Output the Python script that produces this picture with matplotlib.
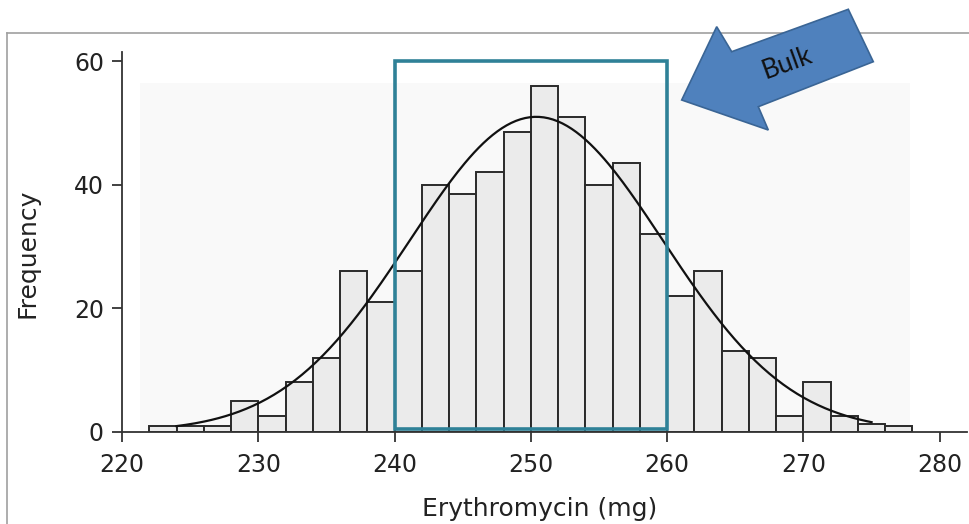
import numpy as np
import matplotlib
matplotlib.use("Agg")
import matplotlib.pyplot as plt
from matplotlib.patches import Polygon, Rectangle
from matplotlib.lines import Line2D

# histogram bins (left edges, width 2 mg) and counts
bin_left = [222, 224, 226, 228, 230, 232, 234, 236, 238, 240, 242, 244, 246, 248,
            250, 252, 254, 256, 258, 260, 262, 264, 266, 268, 270, 272, 274, 276]
counts = [1, 1, 1, 5, 2.5, 8, 12, 26, 21, 26, 40, 38.5, 42, 48.5,
          56, 51, 40, 43.5, 32, 22, 26, 13, 12, 2.5, 8, 2.5, 1.3, 1]
bin_width = 2

# fitted normal curve
fit_mean = 250.4
fit_sd = 9.3
fit_peak = 51
fit_range = (224, 275)

# "bulk" window
bulk_lo, bulk_hi = 240, 260
bulk_top = 60

xticks = [220, 230, 240, 250, 260, 270, 280]
yticks = [0, 20, 40, 60]

W, H = 970, 524
fig = plt.figure(figsize=(W / 100, H / 100), dpi=100)

def px(x, y):
    return (x / W, 1 - y / H)

# faint background panel and the slide frame
fig.patches.append(Rectangle(px(140, 430), 770 / W, 347 / H, transform=fig.transFigure,
                             facecolor="#f9f9f9", edgecolor="none", zorder=0))
fig.lines.append(Line2D([7 / W, 1], [1 - 33 / H] * 2, transform=fig.transFigure,
                        color="#a0a0a0", lw=1.2))
fig.lines.append(Line2D([7 / W] * 2, [0, 1 - 33 / H], transform=fig.transFigure,
                        color="#a0a0a0", lw=1.2))

ax = fig.add_axes([122 / W, 1 - 431.7 / H, (967 - 122) / W, (431.7 - 52) / H])
ax.set_zorder(1)
ax.patch.set_alpha(0)

ax.bar(bin_left, counts, width=bin_width, align="edge", facecolor="#ebebeb",
       edgecolor="#2a2a2a", linewidth=1.4, zorder=2)

xs = np.linspace(fit_range[0], fit_range[1], 300)
ys = fit_peak * np.exp(-0.5 * ((xs - fit_mean) / fit_sd) ** 2)
ax.plot(xs, ys, color="#111111", lw=1.6, zorder=3)

ax.add_patch(Rectangle((bulk_lo, 0.4), bulk_hi - bulk_lo, bulk_top - 0.4,
                       fill=False, edgecolor="#2f8197", lw=2.6, zorder=4))

ax.set_xlim(220, 282)
ax.set_ylim(0, 61.5)
ax.set_xticks(xticks)
ax.set_yticks(yticks)
ax.minorticks_off()
for s in ["top", "right"]:
    ax.spines[s].set_visible(False)
for s in ["left", "bottom"]:
    ax.spines[s].set_visible(True)
    ax.spines[s].set_color("#333333")
    ax.spines[s].set_linewidth(1.3)
ax.tick_params(axis="both", which="major", direction="out", length=7, width=1.3,
               color="#333333", labelsize=17, labelcolor="#222222")
ax.tick_params(axis="x", pad=8)
ax.tick_params(axis="y", pad=6)
ax.set_xlabel("Erythromycin (mg)", fontsize=18, color="#222222")
ax.set_ylabel("Frequency", fontsize=18, color="#222222")
ax.xaxis.set_label_coords(0.4947, -0.2036)
ax.xaxis.label.set_va("center")
ax.yaxis.set_label_coords(-0.1124, 0.4706)
ax.yaxis.label.set_va("center")

# the block arrow pointing at the bulk window
arrow_px = [(681.7, 100), (716.7, 26.7), (731.7, 51.7), (848.3, 9.3),
            (873.3, 61.7), (758.3, 106.7), (768.3, 130)]
fig.patches.append(Polygon([px(x, y) for x, y in arrow_px], closed=True,
                           transform=fig.transFigure, facecolor="#4f81bd",
                           edgecolor="#3a6595", lw=1.2, zorder=5))
fig.text(*px(787, 63), "Bulk", rotation=20, ha="center", va="center",
         fontsize=19, family="Lato", color="#111111", zorder=6)

fig.savefig("out.png", dpi=100)
